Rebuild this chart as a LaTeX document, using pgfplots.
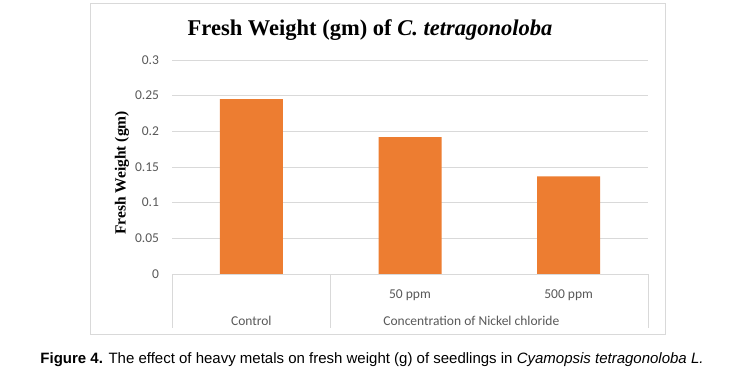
\documentclass[border=0pt]{standalone}
\usepackage{pgfplots}
\pgfplotsset{compat=1.18}
\usepackage{fontspec}
\setmainfont{Liberation Serif}
\newfontfamily\calfont{Carlito}
\newfontfamily\arialfont{Liberation Sans}
\definecolor{barorange}{HTML}{ED7D31}
\definecolor{gridgray}{HTML}{D9D9D9}
\definecolor{labgray}{HTML}{595959}
\begin{document}
\begin{tikzpicture}
\useasboundingbox (0pt,0pt) rectangle (742pt,382pt);
\fill[white] (0pt,0pt) rectangle (742pt,382pt);
\draw[gridgray, line width=1pt] (90pt,378pt) rectangle (665pt,47pt);
\node[font=\bfseries\fontsize{22.5}{26}\selectfont] at (370pt,352pt) {Fresh Weight (gm) of \textit{C. tetragonoloba}};
\begin{axis}[
  at={(172pt,108pt)}, anchor=south west,
  scale only axis, width=476pt, height=214pt,
  xmin=-0.5, xmax=2.5, ymin=0, ymax=0.3,
  ybar, bar width=63pt,
  axis line style={draw=none},
  tick pos=left,
  major tick length=0pt,
  ymajorgrids, grid style={gridgray, line width=0.9pt},
  ytick={0,0.05,0.1,0.15,0.2,0.25,0.3},
  yticklabels={0,0.05,0.1,0.15,0.2,0.25,0.3},
  yticklabel style={font=\calfont\fontsize{13.5}{16}\selectfont, text=labgray, xshift=-9.5pt},
  xtick={1,2},
  xticklabels={50 ppm,500 ppm},
  xticklabel style={font=\calfont\fontsize{13.5}{16}\selectfont, text=labgray, anchor=center, yshift=-21pt},
  extra x ticks={-0.5,0.5,2.5},
  extra x tick labels={},
  extra x tick style={major tick length=54pt, tick align=outside, tick style={gridgray, line width=0.9pt}, grid=none},
  ylabel={Fresh Weight (gm)},
  ylabel style={font=\bfseries\fontsize{15.5}{18}\selectfont, at={(rel axis cs:0,0.5)}, anchor=center, yshift=50pt, xshift=-6pt},
  clip=false,
]
\addplot[fill=barorange, draw=none] coordinates {(0,0.245) (1,0.192) (2,0.137)};
\draw[gridgray, line width=0.9pt] (rel axis cs:0,0) -- (rel axis cs:1,0);
\node[font=\calfont\fontsize{13.5}{16}\selectfont, text=labgray] at (axis cs:0,0) [yshift=-47pt] {Control};
\node[font=\calfont\fontsize{13.5}{16}\selectfont, text=labgray] at (axis cs:1.5,0) [yshift=-47pt, xshift=-18pt] {Concentration of Nickel chloride};
\end{axis}
\node[font=\arialfont\fontsize{15}{18}\selectfont] at (372pt,22pt) {\textbf{Figure 4.} The effect of heavy metals on fresh weight (g) of seedlings in \textit{Cyamopsis tetragonoloba L.}};
\end{tikzpicture}
\end{document}
